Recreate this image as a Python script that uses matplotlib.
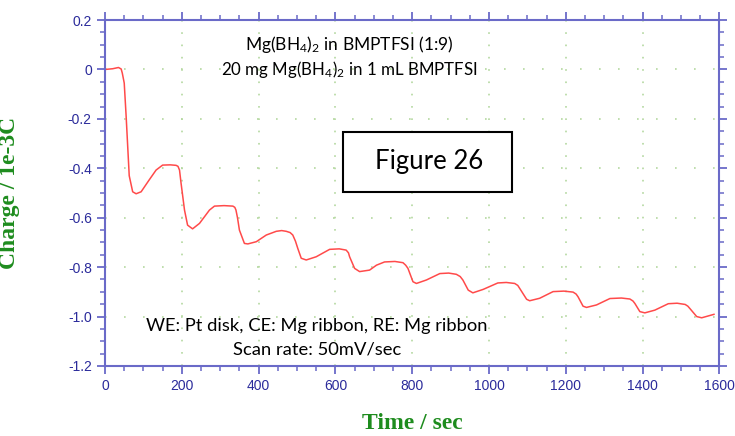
import matplotlib
matplotlib.use("Agg")
import matplotlib.pyplot as plt
from matplotlib.ticker import MultipleLocator
from matplotlib.patches import Rectangle

# datos (tiempo en s, carga en 1e-3 C)
tiempo = [0, 20, 35, 42, 45, 50, 55, 63, 72, 81, 94, 115, 133, 150, 170, 185, 190, 194, 198, 207,
          215, 228, 246, 260, 272, 285, 310, 333, 338, 341, 345, 350, 363, 372, 394, 420, 446,
          460, 472, 482, 489, 496, 502, 511, 524,
          550, 585, 610, 628, 634, 637, 650, 663, 689, 707, 728, 755, 776, 783, 789, 802, 811,
          837, 872, 895, 915, 925, 932, 946, 958, 985, 1023, 1045, 1067, 1075, 1080, 1098, 1106,
          1132, 1167, 1195, 1219, 1227, 1232, 1245, 1254, 1280, 1315, 1345, 1367, 1375, 1380,
          1393, 1406, 1432, 1467, 1490, 1511, 1518, 1523, 1541, 1554, 1586]
carga = [0.0, 0.003, 0.008, 0.002, -0.015, -0.055, -0.19, -0.43, -0.495, -0.503, -0.495, -0.447,
         -0.407, -0.387, -0.386, -0.388, -0.392, -0.407, -0.46, -0.569,
         -0.63, -0.645, -0.623, -0.594, -0.569, -0.553, -0.551, -0.553, -0.558, -0.569, -0.6,
         -0.65, -0.704, -0.706, -0.697, -0.67, -0.655,
         -0.652, -0.655, -0.66, -0.67, -0.695, -0.724, -0.764, -0.771,
         -0.758, -0.728, -0.726, -0.731, -0.742, -0.758, -0.805, -0.818, -0.812, -0.792, -0.779,
         -0.777, -0.782, -0.792, -0.805, -0.859, -0.866,
         -0.852, -0.826, -0.824, -0.829, -0.838, -0.852, -0.893, -0.904, -0.89, -0.864, -0.862,
         -0.866, -0.874, -0.886, -0.93, -0.936,
         -0.926, -0.899, -0.897, -0.901, -0.909, -0.92, -0.958, -0.963, -0.953, -0.927, -0.925,
         -0.929, -0.937, -0.947,
         -0.98, -0.985, -0.974, -0.948, -0.946, -0.951, -0.958, -0.967, -1.0, -1.005, -0.991]

yticks = [0.2, 0, -0.2, -0.4, -0.6, -0.8, -1.0, -1.2]
ytick_labels = ["0.2", "0", "-0.2", "-0.4", "-0.6", "-0.8", "-1.0", "-1.2"]

AZUL_EJE = "#6a6ac8"
AZUL_TXT = "#2b2b9b"
VERDE = "#1e8c1e"

plt.rcParams["mathtext.fontset"] = "custom"
plt.rcParams["mathtext.rm"] = "Lato"
plt.rcParams["mathtext.it"] = "Lato"

fig = plt.figure(figsize=(7.35, 4.36), dpi=100)
ax = fig.add_axes([0.1429, 0.1606, 0.8358, 0.7934])

ax.plot(tiempo, carga, color="#ff4a4a", linewidth=1.1)

ax.set_xlim(0, 1600)
ax.set_ylim(-1.2, 0.2)
ax.xaxis.set_major_locator(MultipleLocator(200))
ax.xaxis.set_minor_locator(MultipleLocator(50))
ax.yaxis.set_minor_locator(MultipleLocator(0.05))
ax.set_yticks(yticks)
ax.set_yticklabels(ytick_labels)

for s in ax.spines.values():
    s.set_color(AZUL_EJE)
    s.set_linewidth(1.5)
ax.tick_params(which="both", direction="out", color=AZUL_EJE, top=True, right=True,
               labelcolor=AZUL_TXT, labelsize=10)
ax.tick_params(which="major", length=6, width=1.3)
ax.tick_params(which="minor", length=3.5, width=1.1)
for lab in ax.get_xticklabels() + ax.get_yticklabels():
    lab.set_family("Liberation Sans")

# rejilla de puntos
ax.grid(axis="x", which="major", color="#b4d8a0", linewidth=1.2, linestyle=(0, (1, 6.38)))
ax.grid(axis="y", which="major", color="#b4d8a0", linewidth=1.2, linestyle=(0, (1, 10.4)))

ax.set_xlabel("Time / sec", family="Liberation Serif", fontweight="bold", fontsize=17,
              color=VERDE, labelpad=14)
ax.set_ylabel("Charge / 1e-3C", family="Liberation Serif", fontweight="bold", fontsize=17,
              color=VERDE)
ax.yaxis.set_label_coords(-0.139, 0.5)

ax.text(0.397, 0.928, r"Mg(BH$_4$)$_2$ in BMPTFSI (1:9)", transform=ax.transAxes,
        ha="center", va="center", family="Lato", fontsize=12.5)
ax.text(0.397, 0.858, r"20 mg Mg(BH$_4$)$_2$ in 1 mL BMPTFSI", transform=ax.transAxes,
        ha="center", va="center", family="Lato", fontsize=12.2)
ax.text(0.345, 0.115, "WE: Pt disk, CE: Mg ribbon, RE: Mg ribbon", transform=ax.transAxes,
        ha="center", va="center", family="Lato", fontsize=13.2)
ax.text(0.345, 0.048, "Scan rate: 50mV/sec", transform=ax.transAxes,
        ha="center", va="center", family="Lato", fontsize=13.2)

fig.patches.append(Rectangle((343 / 735, 1 - 192 / 436), 169 / 735, 60 / 436,
                             transform=fig.transFigure, facecolor="white",
                             edgecolor="black", linewidth=1.5))
fig.text(429 / 735, 1 - 162 / 436, "Figure 26", ha="center", va="center",
         family="Lato", fontsize=18.5)

fig.savefig("out.png", dpi=100)
